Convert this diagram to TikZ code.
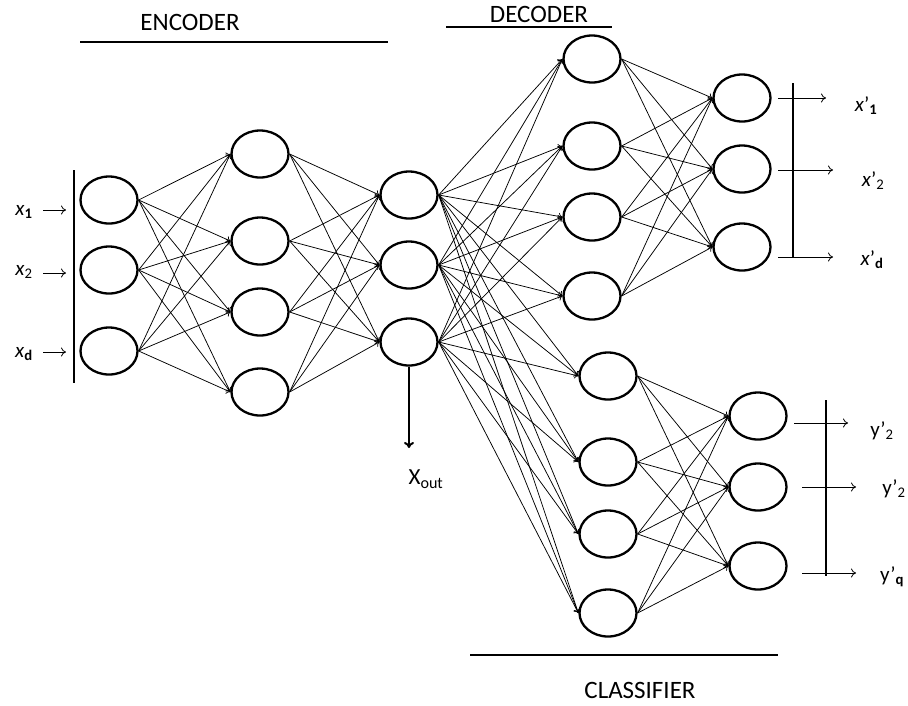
\documentclass[tikz,border=0pt]{standalone}
\usepackage{fontspec}
\setmainfont{Carlito}
\usetikzlibrary{shapes.geometric,arrows.meta}
\begin{document}
\begin{tikzpicture}[x=1pt,y=-1pt,
 neuron/.style={draw,ellipse,line width=2.3pt,minimum width=57pt,minimum height=47pt,inner sep=0pt},
 link/.style={-{To[length=4pt,width=7pt]},line width=0.75pt},
 outarrow/.style={-{To[length=5pt,width=9pt]},line width=0.8pt},
 bar/.style={line width=2pt},
 lbl/.style={font=\fontsize{21}{23}\selectfont,inner sep=0pt},
 head/.style={font=\fontsize{25}{28}\selectfont,inner sep=0pt},
]
\useasboundingbox (0,0) rectangle (908,705);
% layers
\foreach \n/\y in {1/200,2/270,3/351} \node[neuron] (i\n) at (109,\y) {};
\foreach \n/\y in {1/154,2/241,3/312,4/392} \node[neuron] (h\n) at (260,\y) {};
\foreach \n/\y in {1/195,2/265,3/342} \node[neuron] (m\n) at (409,\y) {};
\foreach \n/\y in {1/59,2/146,3/217,4/296} \node[neuron] (d\n) at (592,\y) {};
\foreach \n/\y in {1/98,2/169,3/247} \node[neuron] (o\n) at (742,\y) {};
\foreach \n/\y in {1/376,2/462,3/534,4/613} \node[neuron] (c\n) at (608,\y) {};
\foreach \n/\y in {1/416,2/487,3/566} \node[neuron] (p\n) at (758,\y) {};
% connections
\foreach \a in {1,2,3} \foreach \b in {1,...,4} \draw[link] (i\a.east) -- (h\b.west);
\foreach \a in {1,...,4} \foreach \b in {1,2,3} \draw[link] (h\a.east) -- (m\b.west);
\foreach \a in {1,2,3} \foreach \b in {1,...,4} {
  \draw[link] (m\a.east) -- (d\b.west);
  \draw[link] (m\a.east) -- (c\b.west);
}
\foreach \a in {1,...,4} \foreach \b in {1,2,3} {
  \draw[link] (d\a.east) -- (o\b.west);
  \draw[link] (c\a.east) -- (p\b.west);
}
% inputs
\draw[bar] (74,170) -- (74,383);
\node[lbl] (x1) at (24,212) {\textit{x}\textsubscript{\textbf{1}}};
\node[lbl] (x2) at (24,272) {\textit{x}\textsubscript{2}};
\node[lbl] (xd) at (24,354) {\textit{x}\textsubscript{\textbf{d}}};
\coordinate (ia1) at (66,210);
\coordinate (ia2) at (66,273);
\coordinate (ia3) at (66,352);
\draw[outarrow] (43,210) -- (ia1);
\draw[outarrow] (43,273) -- (ia2);
\draw[outarrow] (43,352) -- (ia3);
% decoder outputs
\draw[bar] (793,83) -- (793,258);
\coordinate (oa1) at (826,98);
\coordinate (oa2) at (833,170);
\coordinate (oa3) at (833,257);
\draw[outarrow] (778,98) -- (oa1);
\draw[outarrow] (778,170) -- (oa2);
\draw[outarrow] (778,257) -- (oa3);
\node[lbl] (xo1) at (866,106) {\textit{x}’\textsubscript{\textbf{1}}};
\node[lbl] (xo2) at (873,181) {\textit{x}’\textsubscript{2}};
\node[lbl] (xo3) at (872,260) {\textit{x}’\textsubscript{\textbf{d}}};
% classifier outputs
\draw[bar] (826,400) -- (826,576);
\coordinate (pa1) at (848,423);
\coordinate (pa2) at (856,487);
\coordinate (pa3) at (856,573);
\draw[outarrow] (794,423) -- (pa1);
\draw[outarrow] (802,487) -- (pa2);
\draw[outarrow] (802,573) -- (pa3);
\node[lbl] (yo1) at (882,431) {y’\textsubscript{2}};
\node[lbl] (yo2) at (894,489) {y’\textsubscript{2}};
\node[lbl] (yo3) at (892,577) {y’\textsubscript{\textbf{q}}};
% X_out
\coordinate (xa) at (409,448);
\draw[-{To[length=6pt,width=10pt]},line width=2pt] (m3.south) -- (xa);
\node[font=\fontsize{23}{25}\selectfont,inner sep=0pt] (xout) at (426,479) {X\textsubscript{out}};
% headings
\node[head] (enc) at (190,22) {ENCODER};
\draw[bar] (80,42) -- (388,42);
\node[head] (dec) at (539,14) {DECODER};
\draw[bar] (446,27) -- (612,27);
\node[head] (cls) at (640,690) {CLASSIFIER};
\draw[bar] (470,655) -- (778,655);
\end{tikzpicture}
\end{document}
